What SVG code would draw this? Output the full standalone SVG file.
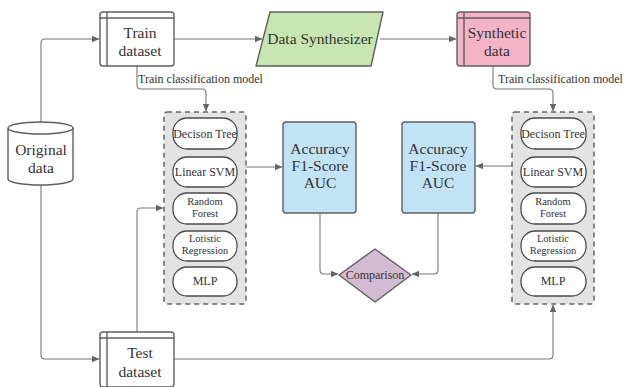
<svg xmlns="http://www.w3.org/2000/svg" width="624" height="387" viewBox="0 0 624 387">
<defs>
<marker id="ah" markerWidth="8" markerHeight="8" refX="7" refY="4" orient="auto" markerUnits="userSpaceOnUse">
<path d="M0,0.8 L7.5,4 L0,7.2 Z" fill="#666"/>
</marker>
</defs>
<style>
.t{font-family:"Liberation Serif","DejaVu Serif",serif;fill:#333;text-anchor:middle}
.big{font-size:15.5px}
.sm{font-size:12px}
.xs{font-size:10.5px}
.lbl{font-size:12px;text-anchor:start}
.shp{stroke:#5f5f5f;stroke-width:1.4}
.ln{fill:none;stroke:#777;stroke-width:1.1}
.pill{fill:#fff;stroke:#4a4a4a;stroke-width:1.3}
.cont{fill:#e3e3e3;stroke:#666;stroke-width:1.5;stroke-dasharray:5,4}
</style>
<rect width="624" height="387" fill="#fff"/>
<g id="connectors">
<path class="ln" d="M41,122 V43 Q41,39 45,39 H99" marker-end="url(#ah)"/>
<path class="ln" d="M41,185 V355 Q41,359 45,359 H99" marker-end="url(#ah)"/>
<path class="ln" d="M174,39 H262" marker-end="url(#ah)"/>
<path class="ln" d="M380,39 H456" marker-end="url(#ah)"/>
<path class="ln" d="M137,66 V85 Q137,89 141,89 H202 Q206,89 206,93 V111" marker-end="url(#ah)"/>
<path class="ln" d="M493,66 V85 Q493,89 497,89 H549 Q553,89 553,93 V111" marker-end="url(#ah)"/>
<path class="ln" d="M137,332 V212 Q137,208 141,208 H163" marker-end="url(#ah)"/>
<path class="ln" d="M174,359 H549 Q553,359 553,355 V305" marker-end="url(#ah)"/>
<path class="ln" d="M246,167 H282" marker-end="url(#ah)"/>
<path class="ln" d="M512,166 H476" marker-end="url(#ah)"/>
<path class="ln" d="M320,213 V270 Q320,274 324,274 H338" marker-end="url(#ah)"/>
<path class="ln" d="M438,213 V270 Q438,274 434,274 H412" marker-end="url(#ah)"/>
<text class="t lbl" x="138" y="83">Train classification model</text>
<text class="t lbl" x="498" y="83">Train classification model</text>
</g>
<g id="original-data">
<path class="shp" fill="#fff" d="M8,128 A32.5,6 0 0 1 73,128 V179 A32.5,6 0 0 1 8,179 Z"/>
<path class="shp" fill="none" d="M8,128 A32.5,6 0 0 0 73,128"/>
<text class="t big" x="41" y="155">Original</text>
<text class="t big" x="41" y="173">data</text>
</g>
<g id="train-dataset">
<rect class="shp" x="100" y="12" width="74" height="54" rx="3" fill="#fff"/>
<path class="shp" fill="none" d="M107,12 V66 M100,18 H174"/>
<text class="t big" x="140" y="38">Train</text>
<text class="t big" x="140" y="56">dataset</text>
</g>
<g id="data-synthesizer">
<path class="shp" fill="#c8e6b1" stroke-linejoin="round" d="M270,12 H383 L371,66 H256 Z"/>
<text class="t big" x="320" y="44">Data Synthesizer</text>
</g>
<g id="synthetic-data">
<rect class="shp" x="457" y="12" width="73" height="54" rx="3" fill="#f4b3c7"/>
<path class="shp" fill="none" d="M464,12 V66 M457,18 H530"/>
<text class="t big" x="497" y="38">Synthetic</text>
<text class="t big" x="497" y="56">data</text>
</g>
<g id="test-dataset">
<rect class="shp" x="100" y="332" width="74" height="55" rx="3" fill="#fff"/>
<path class="shp" fill="none" d="M107,332 V387 M100,338 H174"/>
<text class="t big" x="140" y="358">Test</text>
<text class="t big" x="140" y="377">dataset</text>
</g>
<g id="models-real">
<rect class="cont" x="164" y="112" width="82" height="192" rx="3"/>
<rect class="pill" x="173" y="118" width="64" height="31" rx="14"/>
<text class="t sm" x="205" y="138">Decison Tree</text>
<rect class="pill" x="173" y="157" width="64" height="30" rx="14"/>
<text class="t sm" x="205" y="176">Linear SVM</text>
<rect class="pill" x="173" y="193" width="64" height="31" rx="14"/>
<text class="t xs" x="205" y="205">Random</text>
<text class="t xs" x="205" y="217">Forest</text>
<rect class="pill" x="173" y="231" width="64" height="30" rx="14"/>
<text class="t xs" x="205" y="242">Lotistic</text>
<text class="t xs" x="205" y="254">Regression</text>
<rect class="pill" x="173" y="267" width="64" height="29" rx="14"/>
<text class="t sm" x="205" y="285">MLP</text>
</g>
<g id="models-synthetic">
<rect class="cont" x="512" y="112" width="82" height="192" rx="3"/>
<rect class="pill" x="521" y="118" width="65" height="31" rx="14"/>
<text class="t sm" x="553" y="138">Decison Tree</text>
<rect class="pill" x="521" y="157" width="65" height="30" rx="14"/>
<text class="t sm" x="553" y="176">Linear SVM</text>
<rect class="pill" x="521" y="193" width="65" height="31" rx="14"/>
<text class="t xs" x="553" y="205">Random</text>
<text class="t xs" x="553" y="217">Forest</text>
<rect class="pill" x="521" y="231" width="65" height="30" rx="14"/>
<text class="t xs" x="553" y="242">Lotistic</text>
<text class="t xs" x="553" y="254">Regression</text>
<rect class="pill" x="521" y="267" width="65" height="29" rx="14"/>
<text class="t sm" x="553" y="285">MLP</text>
</g>
<g id="metrics-real">
<rect class="shp" x="283" y="122" width="73" height="91" rx="3" fill="#c2e2f5"/>
<text class="t big" x="320" y="154">Accuracy</text>
<text class="t big" x="320" y="171">F1-Score</text>
<text class="t big" x="320" y="188">AUC</text>
</g>
<g id="metrics-synthetic">
<rect class="shp" x="402" y="122" width="73" height="91" rx="3" fill="#c2e2f5"/>
<text class="t big" x="438" y="154">Accuracy</text>
<text class="t big" x="438" y="171">F1-Score</text>
<text class="t big" x="438" y="188">AUC</text>
</g>
<g id="comparison">
<path class="shp" fill="#d4bbd4" stroke-linejoin="round" d="M375,249 L411,275 L375,302 L339,275 Z"/>
<text class="t sm" x="375" y="279">Comparison</text>
</g>
</svg>
